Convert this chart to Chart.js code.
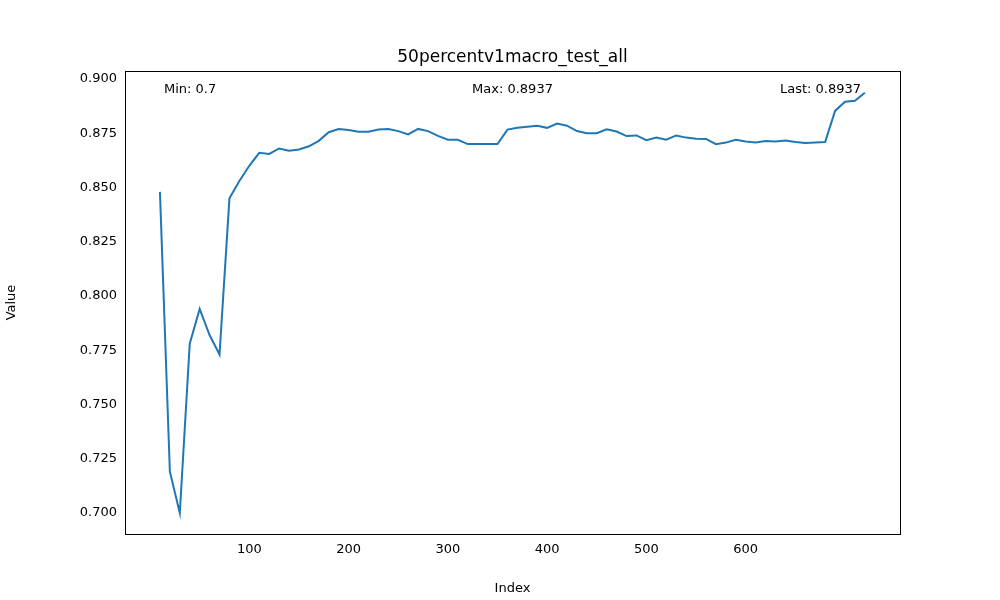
<!DOCTYPE html>
<html>
<head>
<meta charset="utf-8">
<script src="https://cdn.jsdelivr.net/npm/chart.js@4"></script>
<style>
  html, body { margin: 0; padding: 0; background: #fff; }
  #wrap { width: 1000px; height: 600px; }
</style>
</head>
<body>
<div id="wrap"><canvas id="c" width="1000" height="600"></canvas></div>
<script>
// x positions: 10, 20, ... 720
const indexes = [10,20,30,40,50,60,70,80,90,100,110,120,130,140,150,160,170,180,190,200,
  210,220,230,240,250,260,270,280,290,300,310,320,330,340,350,360,370,380,390,400,
  410,420,430,440,450,460,470,480,490,500,510,520,530,540,550,560,570,580,590,600,
  610,620,630,640,650,660,670,680,690,700,710,720];
const values = [0.848,0.719,0.700,0.778,0.794,0.782,0.773,0.845,0.853,0.860,
  0.866,0.8655,0.868,0.867,0.8675,0.869,0.8715,0.8755,0.877,0.8765,
  0.8757,0.8757,0.8767,0.877,0.876,0.8745,0.877,0.876,0.8738,0.872,
  0.872,0.870,0.870,0.870,0.870,0.8767,0.8775,0.878,0.8785,0.8775,
  0.8795,0.8785,0.876,0.875,0.875,0.8768,0.8758,0.8737,0.874,0.8718,
  0.873,0.872,0.874,0.873,0.8725,0.8724,0.870,0.8707,0.872,0.8712,
  0.8707,0.8714,0.8712,0.8717,0.871,0.8705,0.8707,0.871,0.8853,0.8895,
  0.890,0.8937];
const chartTitle = "50percentv1macro_test_all";
const notes = ["Min: 0.7", "Max: 0.8937", "Last: 0.8937"];

const font = "DejaVu Sans";

const overlay = {
  id: "overlay",
  afterDraw(chart) {
    const { ctx, chartArea: a } = chart;
    ctx.save();
    ctx.strokeStyle = "#000";
    ctx.lineWidth = 1;
    ctx.strokeRect(a.left + 0.5, a.top + 0.5, a.right - a.left, a.bottom - a.top);
    ctx.fillStyle = "#000";
    ctx.textBaseline = "middle";
    ctx.font = "17px '" + font + "'";
    ctx.textAlign = "center";
    ctx.fillText(chartTitle, (a.left + a.right) / 2, 58);
    ctx.font = "13px '" + font + "'";
    ctx.textAlign = "left";
    ctx.fillText(notes[0], a.left + 39, 90);
    ctx.textAlign = "center";
    ctx.fillText(notes[1], (a.left + a.right) / 2, 90);
    ctx.textAlign = "right";
    ctx.fillText(notes[2], a.right - 39, 90);
    ctx.restore();
  }
};

new Chart(document.getElementById("c"), {
  type: "line",
  data: {
    datasets: [{
      data: indexes.map((x, i) => ({ x: x, y: values[i] })),
      borderColor: "#1f77b4",
      borderWidth: 2,
      pointRadius: 0,
      tension: 0,
      fill: false
    }]
  },
  options: {
    responsive: false,
    animation: false,
    layout: { padding: { top: 71, right: 100, left: 0, bottom: 0 } },
    plugins: { legend: { display: false }, tooltip: { enabled: false } },
    scales: {
      x: {
        type: "linear", min: -25.2, max: 755.4,
        grid: { display: false, drawTicks: true, tickLength: 5, tickColor: "#000" },
        border: { display: false },
        ticks: { stepSize: 100, color: "#000", font: { family: font, size: 13 },
          callback: v => (v % 100 === 0 && v >= 0) ? String(v) : null },
        title: { display: true, text: "Index", color: "#000", font: { family: font, size: 13 } },
        afterFit(s) { s.height = 66; }
      },
      y: {
        min: 0.6903, max: 0.9037,
        grid: { display: false, drawTicks: true, tickLength: 5, tickColor: "#000" },
        border: { display: false },
        afterBuildTicks(s) {
          const t = [];
          for (let i = 0; i <= 8; i++) t.push({ value: 0.7 + i * 0.025 });
          s.ticks = t;
        },
        ticks: { color: "#000", font: { family: font, size: 13 }, callback: v => v.toFixed(3) },
        title: { display: true, text: "Value", color: "#000", font: { family: font, size: 13 } },
        afterFit(s) { s.width = 125; }
      }
    }
  },
  plugins: [overlay]
});
</script>
</body>
</html>
